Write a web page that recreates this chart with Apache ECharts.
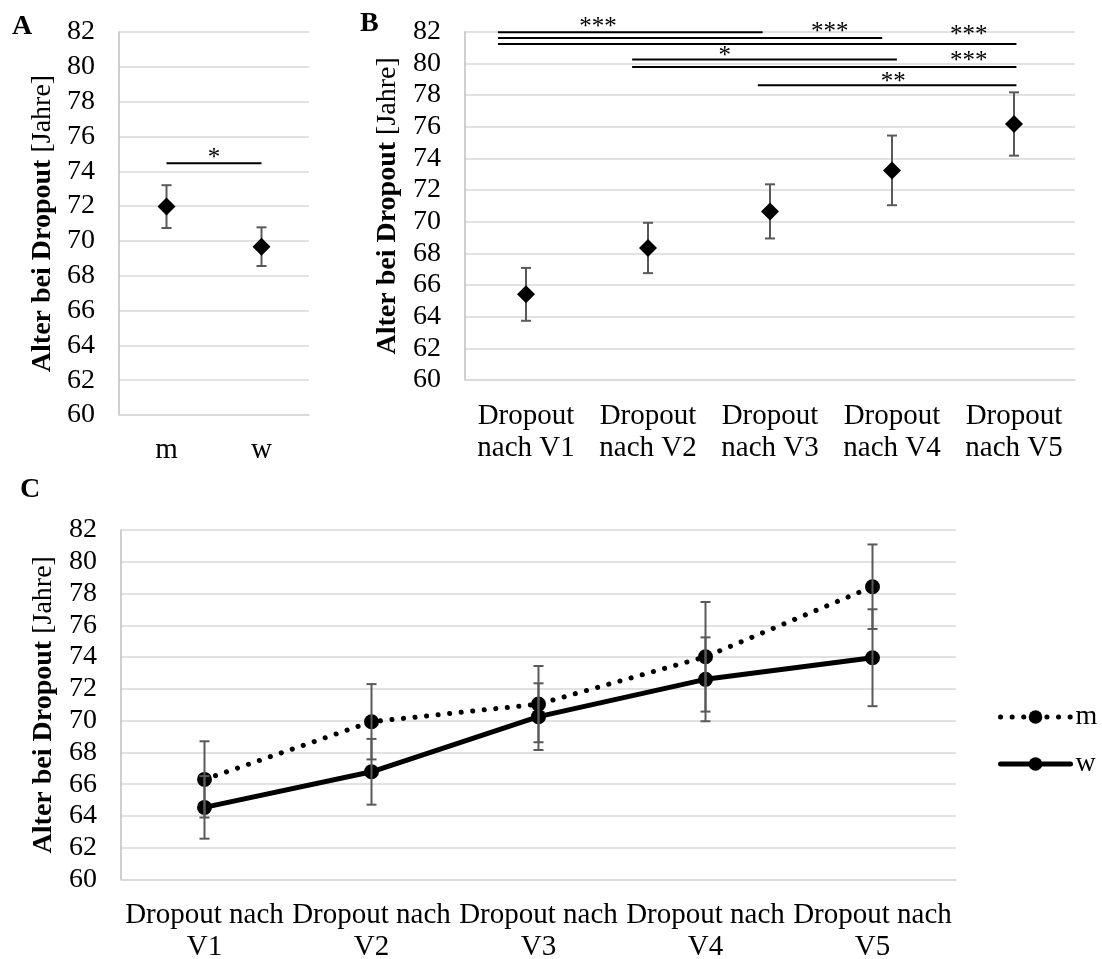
<!DOCTYPE html>
<html><head><meta charset="utf-8">
<script src="https://cdn.jsdelivr.net/npm/echarts@6/dist/echarts.min.js"></script>
<style>html,body{margin:0;padding:0;background:#fff}#c{width:1102px;height:959px}</style>
</head><body><div id="c"></div>
<script>
// ---------- data ----------
const yMin = 60, yMax = 82, yStep = 2;

const catA = ['m', 'w'];
const meanA = [71.97, 69.67];
const errA = [1.23, 1.11];
const sigFromA = [0], sigToA = [1], sigLevelA = [74.46], sigTextA = ['*'];
const sigTextXA = [0.5], sigTextYA = [74.99];

const catB = ['Dropout nach V1', 'Dropout nach V2', 'Dropout nach V3', 'Dropout nach V4', 'Dropout nach V5'];
const meanB = [65.41, 68.34, 70.65, 73.24, 76.17];
const errB = [1.67, 1.59, 1.71, 2.2, 2.0];
const sigFromB = [-0.23, -0.23, -0.23, 0.87, 0.87, 1.90];
const sigToB = [1.94, 2.92, 4.02, 3.04, 4.02, 4.02];
const sigLevelB = [81.97, 81.6, 81.22, 80.25, 79.77, 78.62];
const sigTextB = ['***', '***', '***', '*', '***', '**'];
const sigTextXB = [0.59, 2.49, 3.63, 1.63, 3.63, 3.01];
const sigTextYB = [82.54, 82.2, 81.99, 80.71, 80.4, 79.07];

const catC = ['Dropout nach V1', 'Dropout nach V2', 'Dropout nach V3', 'Dropout nach V4', 'Dropout nach V5'];
const seriesNames = ['m', 'w'];
const meanM = [66.3, 69.93, 71.04, 74.02, 78.43];
const errM = [2.4, 2.37, 2.4, 3.45, 2.66];
const meanW = [64.54, 66.78, 70.25, 72.6, 73.96];
const errW = [1.97, 2.07, 2.1, 2.64, 3.05];

const yTitleBold = 'Alter bei Dropout';
const yTitleUnit = '[Jahre]';
const panelLetters = ['A', 'B', 'C'];

// ---------- styling ----------
const FONT = '"Liberation Serif", "Times New Roman", serif';
const GRID_COLOR = '#d9d9d9';
const AXIS_COLOR = '#bfbfbf';
const ERR_COLOR = '#595959';

function errData(mean, err) { return mean.map((m, i) => [i, m - err[i], m + err[i]]); }

function errRender(params, api) {
  const x = api.value(0), lo = api.value(1), hi = api.value(2);
  const p1 = api.coord([x, hi]), p2 = api.coord([x, lo]);
  const w = 5;
  const style = { stroke: ERR_COLOR, lineWidth: 2, fill: null };
  return { type: 'group', children: [
    { type: 'line', shape: { x1: p1[0], y1: p1[1], x2: p2[0], y2: p2[1] }, style },
    { type: 'line', shape: { x1: p1[0] - w, y1: p1[1], x2: p1[0] + w, y2: p1[1] }, style },
    { type: 'line', shape: { x1: p2[0] - w, y1: p2[1], x2: p2[0] + w, y2: p2[1] }, style }
  ]};
}

function sigRenderFactory(from, to, level, text, tx, ty) {
  return function (params, api) {
    const i = params.dataIndex;
    const a = api.coord([from[i], level[i]]);
    const b = api.coord([to[i], level[i]]);
    const t = api.coord([tx[i], ty[i]]);
    return { type: 'group', children: [
      { type: 'line', shape: { x1: a[0], y1: a[1], x2: b[0], y2: b[1] }, style: { stroke: '#000', lineWidth: 2 } },
      { type: 'text', x: t[0], y: t[1] + 4, style: { text: text[i], font: '25px ' + FONT, fill: '#000', align: 'center', verticalAlign: 'middle' } }
    ]};
  };
}

function yAxis(gridIndex) {
  return {
    type: 'value', gridIndex, min: yMin, max: yMax, interval: yStep,
    axisLine: { show: true, onZero: false, lineStyle: { color: AXIS_COLOR, width: 1.5 } },
    axisTick: { show: false },
    splitLine: { lineStyle: { color: GRID_COLOR, width: 1.5 } },
    axisLabel: { color: '#000', fontSize: 28, fontFamily: FONT, margin: 24 },
    name: '{b|' + yTitleBold + '} {r|' + yTitleUnit + '}',
    nameLocation: 'middle', nameRotate: 90, nameGap: 62,
    nameTextStyle: {
      color: '#000', fontSize: 28, fontFamily: FONT,
      rich: {
        b: { fontWeight: 'bold', fontSize: 28, fontFamily: FONT, color: '#000' },
        r: { fontSize: 28, fontFamily: FONT, color: '#000' }
      }
    }
  };
}

function catAxis(gridIndex, data, margin, formatter) {
  return {
    type: 'category', gridIndex, data,
    axisLine: { show: true, onZero: false, lineStyle: { color: GRID_COLOR, width: 1.5 } },
    axisTick: { show: false },
    axisLabel: { color: '#000', fontSize: 29, fontFamily: FONT, margin, lineHeight: 32, interval: 0, formatter }
  };
}

function hiddenX(gridIndex, n) {
  return { type: 'value', gridIndex, min: -0.5, max: n - 0.5, show: false };
}

const chart = echarts.init(document.getElementById('c'), null, { renderer: 'canvas' });
chart.setOption({
  animation: false,
  backgroundColor: '#fff',
  grid: [
    { left: 119, top: 32, width: 190, height: 383, outerBoundsMode: 'none', containLabel: false },
    { left: 465, top: 31.7, width: 610, height: 348.3, outerBoundsMode: 'none', containLabel: false },
    { left: 121, top: 530, width: 835, height: 349.5, outerBoundsMode: 'none', containLabel: false }
  ],
  xAxis: [
    catAxis(0, catA, 19),
    catAxis(1, catB, 20, v => v.replace(' ', '\n')),
    catAxis(2, catC, 20, v => v.replace(/ (V\d)$/, '\n$1')),
    hiddenX(0, catA.length),
    hiddenX(1, catB.length)
  ],
  yAxis: [yAxis(0), yAxis(1), yAxis(2)],
  legend: {
    data: seriesNames, orient: 'vertical', left: 998, top: 703, padding: 0,
    itemWidth: 70, itemHeight: 17, itemGap: 19,
    lineStyle: { width: 5 },
    textStyle: { fontSize: 28, fontFamily: FONT, color: '#000' }
  },
  graphic: panelLetters.map((L, i) => ({
    type: 'text', left: [12, 360, 20][i], top: [13, 10, 476][i],
    style: { text: L, font: 'bold 28px ' + FONT, fill: '#000' }
  })),
  series: [
    { type: 'custom', name: 'errA', xAxisIndex: 0, yAxisIndex: 0, renderItem: errRender, data: errData(meanA, errA), z: 2 },
    { type: 'scatter', name: 'A', xAxisIndex: 0, yAxisIndex: 0, symbol: 'diamond', symbolSize: 18, itemStyle: { color: '#000', opacity: 1 }, data: meanA, z: 3 },
    { type: 'custom', name: 'sigA', xAxisIndex: 3, yAxisIndex: 0, clip: false,
      renderItem: sigRenderFactory(sigFromA, sigToA, sigLevelA, sigTextA, sigTextXA, sigTextYA),
      data: sigFromA.map((v, i) => [i]) },

    { type: 'custom', name: 'errB', xAxisIndex: 1, yAxisIndex: 1, renderItem: errRender, data: errData(meanB, errB), z: 2 },
    { type: 'scatter', name: 'B', xAxisIndex: 1, yAxisIndex: 1, symbol: 'diamond', symbolSize: 18, itemStyle: { color: '#000', opacity: 1 }, data: meanB, z: 3 },
    { type: 'custom', name: 'sigB', xAxisIndex: 4, yAxisIndex: 1, clip: false,
      renderItem: sigRenderFactory(sigFromB, sigToB, sigLevelB, sigTextB, sigTextXB, sigTextYB),
      data: sigFromB.map((v, i) => [i]) },

    { type: 'custom', name: 'errM', xAxisIndex: 2, yAxisIndex: 2, renderItem: errRender, data: errData(meanM, errM), z: 4 },
    { type: 'custom', name: 'errW', xAxisIndex: 2, yAxisIndex: 2, renderItem: errRender, data: errData(meanW, errW), z: 4 },
    { type: 'line', name: seriesNames[0], xAxisIndex: 2, yAxisIndex: 2, data: meanM,
      symbol: 'circle', symbolSize: 15, showAllSymbol: true,
      itemStyle: { color: '#000', opacity: 1 },
      lineStyle: { color: '#000', width: 5, type: [0.1, 11.5], cap: 'round' }, z: 3 },
    { type: 'line', name: seriesNames[1], xAxisIndex: 2, yAxisIndex: 2, data: meanW,
      symbol: 'circle', symbolSize: 15, showAllSymbol: true,
      itemStyle: { color: '#000', opacity: 1 },
      lineStyle: { color: '#000', width: 5, type: 'solid', cap: 'round' }, z: 3 }
  ]
});
</script>
</body></html>
